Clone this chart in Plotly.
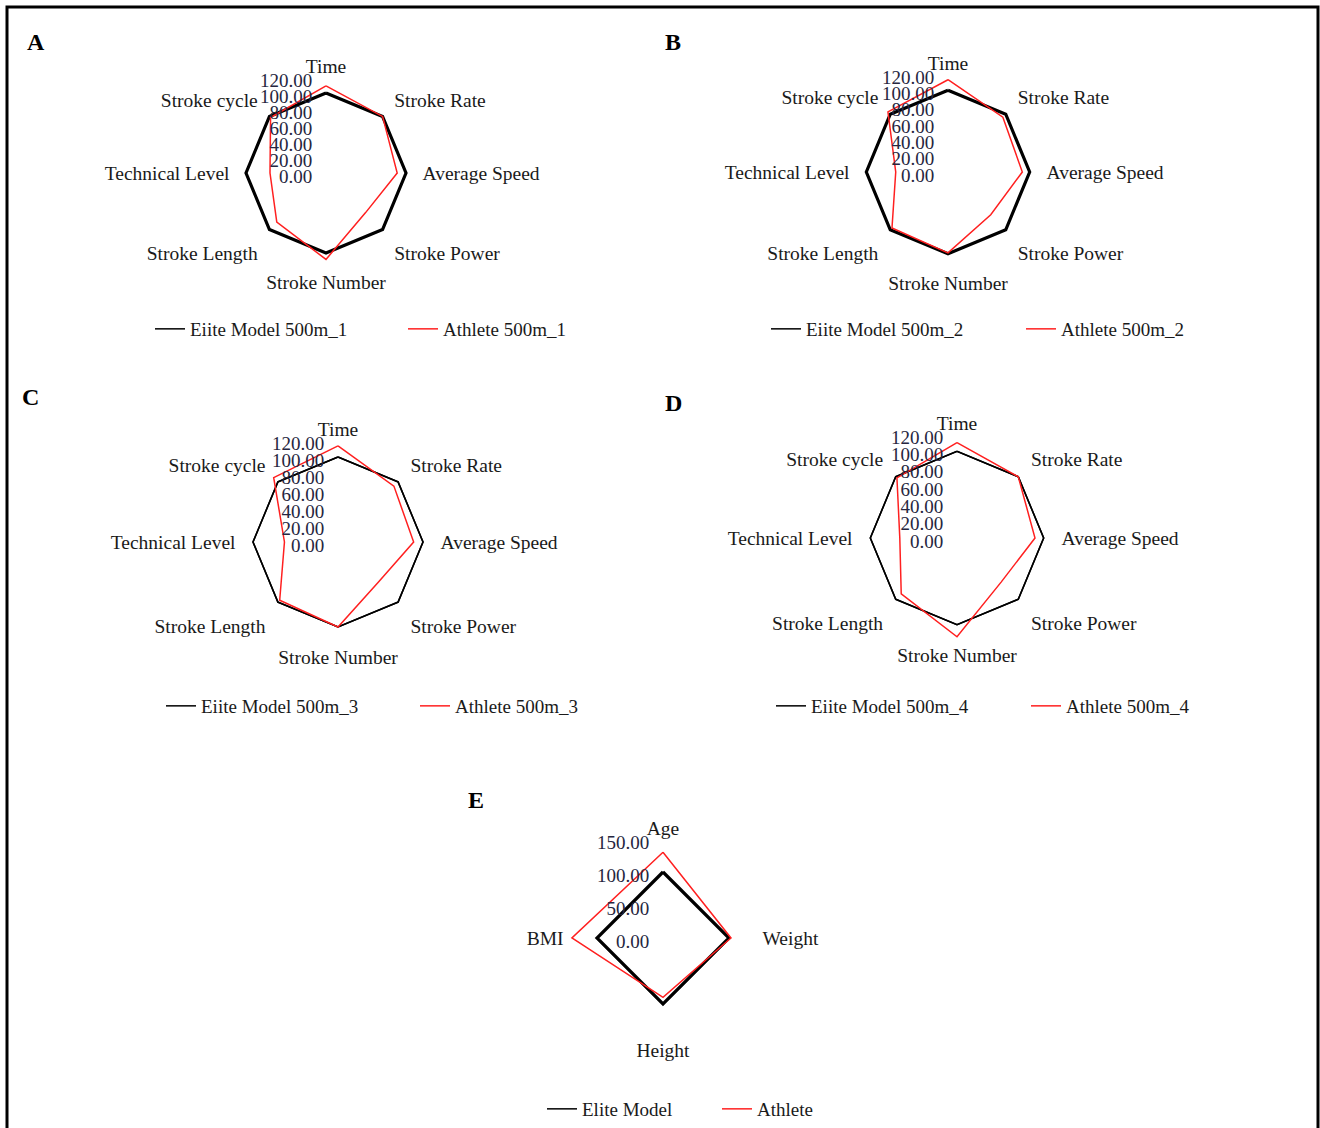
import plotly.graph_objects as go

W, H = 1320, 1128

categories = ["Time", "Stroke Rate", "Average Speed", "Stroke Power",
              "Stroke Number", "Stroke Length", "Technical Level", "Stroke cycle"]

elite_1 = [100, 100, 100, 100, 100, 100, 100, 100]
athlete_1 = [109, 100, 89, 70, 108, 87, 70, 98]
elite_2 = [100, 100, 100, 100, 100, 100, 100, 100]
athlete_2 = [113, 95, 91, 74, 99, 97, 64, 104]
elite_3 = [100, 100, 100, 100, 100, 100, 100, 100]
athlete_3 = [113, 93, 89, 67, 100, 97, 63, 107]
elite_4 = [100, 100, 100, 100, 100, 100, 100, 100]
athlete_4 = [110, 100, 90, 72, 114, 91, 66, 98]

categories_e = ["Age", "Weight", "Height", "BMI"]
elite_e = [100, 100, 100, 100]
athlete_e = [130, 103, 90, 138]

ticks_8 = [0, 20, 40, 60, 80, 100, 120]
ticks_e = [0, 50, 100, 150]

SERIF = "Liberation Serif, Times New Roman, serif"
TICKCOL = "#262640"

fig = go.Figure()

# label, center x, center y, outer radius px, range max, ticks, elite width,
# categories, elite, athlete, names, legend (text start x, y, entrywidth), letter pos
panels = [
    ("A", 326, 173, 96, 120, ticks_8, 3.2, categories, elite_1, athlete_1,
     "Eiite Model 500m_1", "Athlete 500m_1", (190, 329, 208), (36, 42)),
    ("B", 948, 172, 98, 120, ticks_8, 3.2, categories, elite_2, athlete_2,
     "Eiite Model 500m_2", "Athlete 500m_2", (806, 329, 210), (673, 42)),
    ("C", 338, 542, 102, 120, ticks_8, 1.6, categories, elite_3, athlete_3,
     "Eiite Model 500m_3", "Athlete 500m_3", (201, 706, 209), (30, 397)),
    ("D", 957, 538, 104, 120, ticks_8, 1.6, categories, elite_4, athlete_4,
     "Eiite Model 500m_4", "Athlete 500m_4", (811, 706, 210), (673, 403)),
    ("E", 663, 938, 99, 150, ticks_e, 3.2, categories_e, elite_e, athlete_e,
     "Elite Model", "Athlete", (582, 1109, 130), (476, 800)),
]

layout_updates = {}
annotations = []
for i, (lab, cx, cy, R, rmax, ticks, ew, cats, el, ath, n1, n2, leg, lettpos) in enumerate(panels):
    pk = "polar" if i == 0 else f"polar{i+1}"
    lk = "legend" if i == 0 else f"legend{i+1}"
    theta = cats + [cats[0]]
    # drawn elite line (thickness as in the reference panel)
    fig.add_trace(go.Scatterpolar(
        r=el + [el[0]], theta=theta, mode="lines", name=n1, showlegend=False,
        line=dict(color="black", width=ew), subplot=pk, legend=lk))
    # same elite data, thin, used for the legend entry
    fig.add_trace(go.Scatterpolar(
        r=el + [el[0]], theta=theta, mode="lines", name=n1,
        line=dict(color="black", width=1.5), subplot=pk, legend=lk))
    fig.add_trace(go.Scatterpolar(
        r=ath + [ath[0]], theta=theta, mode="lines", name=n2,
        line=dict(color="#ff2020", width=1.5), subplot=pk, legend=lk))
    layout_updates[pk] = dict(
        domain=dict(x=[(cx - R) / W, (cx + R) / W],
                    y=[1 - (cy + R) / H, 1 - (cy - R) / H]),
        bgcolor="rgba(0,0,0,0)",
        radialaxis=dict(range=[0, rmax], tickvals=ticks, tickformat=".2f",
                        angle=90, side="counterclockwise", showline=False,
                        showgrid=False, ticks="",
                        tickfont=dict(family=SERIF, size=19, color=TICKCOL)),
        angularaxis=dict(direction="clockwise", rotation=90, showline=False,
                         showgrid=False, ticks="",
                         tickfont=dict(family=SERIF, size=19.5, color="#1a1a1a")),
    )
    layout_updates[lk] = dict(
        orientation="h", x=(leg[0] - 40) / W, y=1 - leg[1] / H,
        xanchor="left", yanchor="middle",
        font=dict(family=SERIF, size=19, color="#1a1a1a"),
        bgcolor="rgba(0,0,0,0)", entrywidth=leg[2],
        entrywidthmode="pixels", traceorder="normal",
    )
    annotations.append(dict(
        text=f"<b>{lab}</b>", x=lettpos[0] / W, y=1 - lettpos[1] / H,
        xref="paper", yref="paper", showarrow=False,
        xanchor="center", yanchor="middle",
        font=dict(family=SERIF, size=24, color="black")))

fig.update_layout(
    width=W, height=H, margin=dict(l=0, r=0, t=0, b=0),
    paper_bgcolor="white", plot_bgcolor="white",
    annotations=annotations,
    shapes=[dict(type="rect", xref="paper", yref="paper",
                 x0=7 / W, x1=1318 / W, y0=-0.02, y1=1 - 7 / H,
                 line=dict(color="black", width=3))],
    **layout_updates,
)

fig.write_html("out.html", config={"displayModeBar": False},
               post_script="document.body.style.margin='0';")
